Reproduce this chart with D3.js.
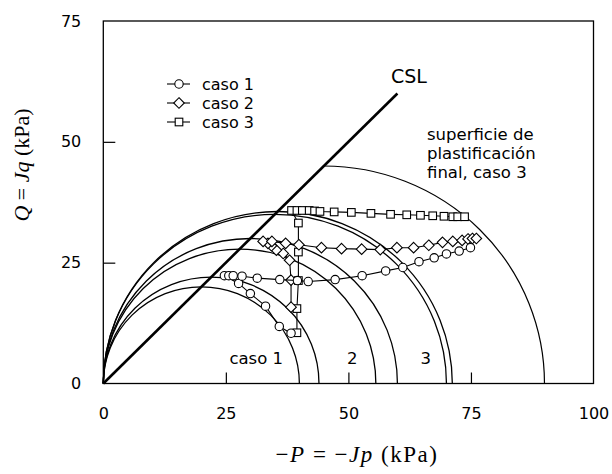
<!DOCTYPE html>
<html>
<head>
<meta charset="utf-8">
<script src="https://cdn.jsdelivr.net/npm/d3@7"></script>
<style>
  body { margin: 0; background: #fff; }
  svg text { fill: #000; }
</style>
</head>
<body>
<svg id="chart" width="612" height="474"></svg>
<script>
// Stress paths (−P, Q) in kPa
const caso1P = [38.3, 35.9, 33.1, 30.0, 27.6, 24.7, 25.6, 26.5, 28.3, 31.4, 36.0, 39.6, 41.8, 47.3, 52.8, 57.6, 61.1, 64.4, 67.5, 70.0, 72.6, 74.9];
const caso1Q = [10.4, 11.8, 16.0, 18.6, 20.7, 22.3, 22.3, 22.3, 22.2, 21.8, 21.5, 21.3, 21.1, 21.5, 22.3, 23.3, 24.0, 25.2, 26.0, 26.8, 27.4, 28.1];

const caso2P = [38.3, 38.3, 38.0, 36.7, 35.3, 34.3, 33.6, 32.6, 34.4, 37.2, 39.9, 44.5, 48.6, 52.7, 56.5, 59.9, 63.3, 66.4, 69.2, 71.3, 73.2, 74.4, 75.3, 76.1];
const caso2Q = [15.8, 21.4, 25.5, 26.9, 27.6, 28.5, 29.0, 29.4, 29.4, 29.0, 28.7, 28.1, 27.9, 27.8, 27.7, 28.1, 28.1, 28.6, 29.2, 29.4, 29.6, 29.9, 30.0, 30.0];

const caso3P = [39.5, 39.5, 39.8, 39.8, 39.8, 38.4, 39.5, 40.6, 42.0, 43.1, 44.2, 47.1, 50.6, 54.6, 58.6, 61.9, 64.7, 67.2, 69.5, 71.3, 72.3, 73.7];
const caso3Q = [10.5, 15.5, 21.3, 27.2, 33.2, 35.8, 35.8, 35.8, 35.8, 35.7, 35.6, 35.5, 35.4, 35.2, 35.0, 34.9, 34.8, 34.7, 34.6, 34.5, 34.5, 34.5];

// Yield surfaces (preconsolidation −P0, kPa): full semicircles, plus the final one of caso 3 drawn from its apex
const yieldP0 = [40, 44, 55.6, 60, 70, 71.2];
const finalYieldP0 = 90;

// Critical state line end point
const cslEnd = [60, 60];

const xTicks = [0, 25, 50, 75, 100];
const yTicks = [0, 25, 50, 75];
const legendLabels = ["caso 1", "caso 2", "caso 3"];
const zoneLabels = ["caso 1", "2", "3"];
const zoneLabelP = [31.2, 50.8, 65.8];

const svg = d3.select("#chart");
const x = d3.scaleLinear().domain([0, 100]).range([103.3, 593.5]);
const y = d3.scaleLinear().domain([0, 75]).range([383.5, 21]);

const sans = "'DejaVu Sans', sans-serif";
const serif = "'Liberation Serif', 'Times New Roman', serif";

// Frame
svg.append("rect")
  .attr("x", x(0)).attr("y", y(75))
  .attr("width", x(100) - x(0)).attr("height", y(0) - y(75))
  .attr("fill", "none").attr("stroke", "#000").attr("stroke-width", 1.3);

// Inward ticks
const xAxis = d3.axisBottom(x).tickValues(xTicks).tickSizeInner(-11).tickSizeOuter(0).tickPadding(16);
const gx = svg.append("g").attr("transform", `translate(0,${y(0)})`).call(xAxis);
gx.select(".domain").remove();
gx.selectAll("line").attr("stroke-width", 1.2).filter(d => d === 0 || d === 100).remove();
gx.selectAll("text").attr("font-family", sans).attr("font-size", 16).attr("dy", "0.71em")
  .attr("y", 24);

const yAxis = d3.axisLeft(y).tickValues(yTicks).tickSizeInner(-12).tickSizeOuter(0).tickPadding(22);
const gy = svg.append("g").attr("transform", `translate(${x(0)},0)`).call(yAxis);
gy.select(".domain").remove();
gy.selectAll("line").attr("stroke-width", 1.2).filter(d => d === 0 || d === 75).remove();
gy.selectAll("text").attr("font-family", sans).attr("font-size", 16).attr("x", -22);

// Yield surfaces
const rx = p0 => (x(p0 / 2) - x(0));
const ry = p0 => (y(0) - y(p0 / 2));
svg.append("g").selectAll("path").data(yieldP0).join("path")
  .attr("d", p0 => `M${x(p0)},${y(0)} A${rx(p0)},${ry(p0)} 0 0 0 ${x(0)},${y(0)}`)
  .attr("fill", "none").attr("stroke", "#000").attr("stroke-width", 1.3);

svg.append("path")
  .attr("d", `M${x(finalYieldP0)},${y(0)} A${rx(finalYieldP0)},${ry(finalYieldP0)} 0 0 0 ${x(finalYieldP0 / 2)},${y(finalYieldP0 / 2)}`)
  .attr("fill", "none").attr("stroke", "#000").attr("stroke-width", 1.2);

// CSL
svg.append("line")
  .attr("x1", x(0)).attr("y1", y(0)).attr("x2", x(cslEnd[0])).attr("y2", y(cslEnd[1]))
  .attr("stroke", "#000").attr("stroke-width", 2.6);

// Stress paths
const line = d3.line().x(d => x(d[0])).y(d => y(d[1]));
const series = [
  { p: caso3P, q: caso3Q, sym: "square" },
  { p: caso2P, q: caso2Q, sym: "diamond" },
  { p: caso1P, q: caso1Q, sym: "circle" }
];

function marker(g, sym) {
  if (sym === "circle") {
    g.append("circle").attr("r", 4.2);
  } else if (sym === "square") {
    g.append("rect").attr("x", -3.8).attr("y", -3.8).attr("width", 7.6).attr("height", 7.6);
  } else {
    g.append("path").attr("d", "M0,-5.3L5.3,0L0,5.3L-5.3,0Z");
  }
}

series.forEach(s => {
  const pts = s.p.map((v, i) => [v, s.q[i]]);
  svg.append("path").datum(pts).attr("d", line)
    .attr("fill", "none").attr("stroke", "#000").attr("stroke-width", 1.1);
  const g = svg.append("g").attr("fill", "#fff").attr("stroke", "#000").attr("stroke-width", 1.1);
  pts.forEach(d => {
    const m = g.append("g").attr("transform", `translate(${x(d[0])},${y(d[1])})`);
    marker(m, s.sym);
  });
});

// Legend
const legendSyms = ["circle", "diamond", "square"];
legendLabels.forEach((lab, i) => {
  const ly = 84 + i * 19;
  const g = svg.append("g").attr("transform", `translate(179,${ly})`);
  g.append("line").attr("x1", -12).attr("x2", 11).attr("stroke", "#000").attr("stroke-width", 1.1);
  const m = g.append("g").attr("fill", "#fff").attr("stroke", "#000").attr("stroke-width", 1.1);
  marker(m, legendSyms[i]);
  g.append("text").attr("x", 23).attr("y", 5.5)
    .attr("font-family", sans).attr("font-size", 16).text(lab);
});

// Annotations
svg.append("text").attr("x", 391).attr("y", 83)
  .attr("font-family", sans).attr("font-size", 19).text("CSL");

const note = svg.append("text").attr("font-family", sans).attr("font-size", 16.5);
["superficie de", "plastificación", "final, caso 3"].forEach((t, i) => {
  note.append("tspan").attr("x", 427).attr("y", 140 + i * 19).text(t);
});

svg.append("g").selectAll("text").data(zoneLabels).join("text")
  .attr("x", (d, i) => x(zoneLabelP[i])).attr("y", 364)
  .attr("text-anchor", "middle").attr("font-family", sans).attr("font-size", 16.5)
  .text(d => d);

// Axis titles
const xt = svg.append("text").attr("x", 357).attr("y", 462).attr("text-anchor", "middle")
  .attr("font-family", serif).attr("font-size", 23).attr("letter-spacing", 1.5);
xt.append("tspan").text("\u2212");
xt.append("tspan").attr("font-style", "italic").text("P");
xt.append("tspan").text(" = \u2212");
xt.append("tspan").attr("font-style", "italic").text("Jp");
xt.append("tspan").text(" (kPa)");

const yt = svg.append("text").attr("transform", "translate(29,165) rotate(-90)")
  .attr("text-anchor", "middle").attr("font-family", serif).attr("font-size", 22);
yt.append("tspan").attr("font-style", "italic").text("Q");
yt.append("tspan").text(" = ");
yt.append("tspan").attr("font-style", "italic").text("Jq");
yt.append("tspan").text(" (kPa)");
</script>
</body>
</html>
